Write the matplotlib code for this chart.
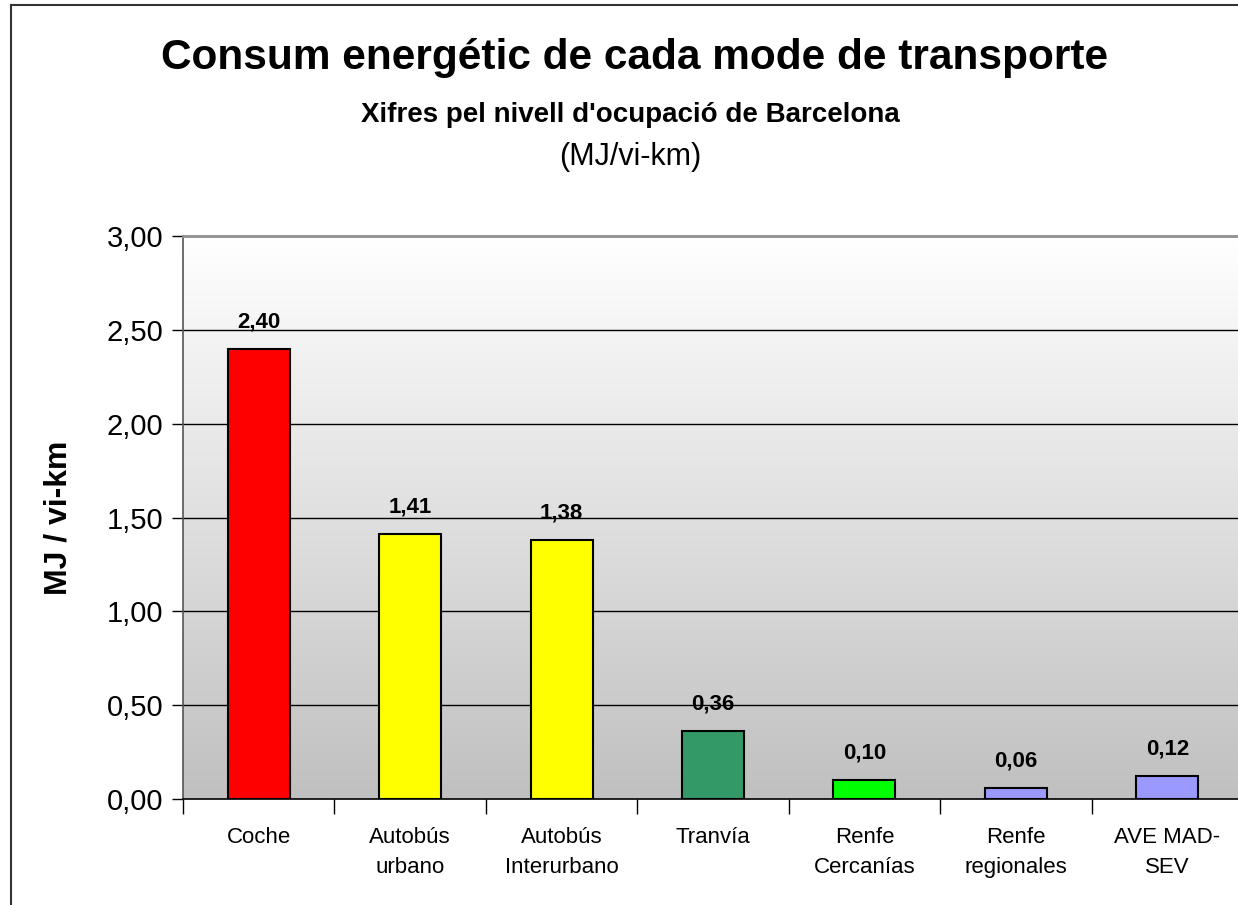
import numpy as np
import matplotlib
matplotlib.use("Agg")
import matplotlib.pyplot as plt
from matplotlib.lines import Line2D

categories = ["Coche", "Autobús\nurbano", "Autobús\nInterurbano", "Tranvía",
              "Renfe\nCercanías", "Renfe\nregionales", "AVE MAD-\nSEV"]
values = [2.40, 1.41, 1.38, 0.36, 0.10, 0.06, 0.12]
colors = ["#FF0000", "#FFFF00", "#FFFF00", "#339966", "#00FF00", "#9999FF", "#9999FF"]
yticks = [0.0, 0.5, 1.0, 1.5, 2.0, 2.5, 3.0]

plt.rcParams['font.family'] = ['Liberation Sans', 'DejaVu Sans']

W, H = 1238, 905
fig = plt.figure(figsize=(W / 100, H / 100), dpi=100)
fig.patch.set_facecolor("white")

left, right, top, bottom = 183, 1243, 236, 799
ax = fig.add_axes([left / W, 1 - bottom / H, (right - left) / W, (bottom - top) / H])

n = len(categories)
ax.set_xlim(-0.5, n - 0.5)
ax.set_ylim(0, 3.0)

# gradient background
grad = np.linspace(1.0, 0.0, 256).reshape(-1, 1)
cmap = matplotlib.colors.LinearSegmentedColormap.from_list("bg", ["#C0C0C0", "#FFFFFF"])
ax.imshow(grad, aspect="auto", cmap=cmap, extent=[-0.5, n - 0.5, 0, 3.0],
          origin="upper", zorder=0, vmin=0, vmax=1)
ax.set_facecolor("white")

for y in yticks[1:-1]:
    ax.axhline(y, color="black", lw=1.0, zorder=1)

x = np.arange(n)
bars = ax.bar(x, values, width=0.41, color=colors, edgecolor="black", linewidth=1.5, zorder=2)

for xi, v in zip(x, values):
    ax.annotate(f"{v:.2f}".replace(".", ","), (xi, v), xytext=(0, 19.5),
                textcoords="offset points", ha="center", va="center",
                fontsize=16, fontweight="bold", zorder=3)

ax.set_yticks(yticks)
ax.set_yticklabels([f"{t:.2f}".replace(".", ",") for t in yticks], fontsize=21)
ax.tick_params(axis="y", direction="out", length=8, width=1, pad=6, color="black")

ax.set_xticks(np.arange(-0.5, n, 1.0))
ax.set_xticklabels([])
ax.tick_params(axis="x", direction="out", length=11, width=1, color="black")
ax.set_xticks(x, minor=True)
ax.set_xticklabels(categories, minor=True, fontsize=16, linespacing=1.6, va="top")
ax.tick_params(axis="x", which="minor", length=0, pad=20)

ax.spines["right"].set_visible(False)
ax.spines["top"].set_color("#909090")
ax.spines["top"].set_linewidth(2)
ax.spines["left"].set_color("#555555")
ax.spines["left"].set_linewidth(1.2)
ax.spines["bottom"].set_color("black")
ax.spines["bottom"].set_linewidth(1.2)

ax.set_ylabel("MJ / vi-km", fontsize=23, fontweight="bold", labelpad=24)

fig.text(635 / W, 1 - 58 / H, "Consum energétic de cada mode de transporte",
         ha="center", va="center", fontsize=30.5, fontweight="bold")
fig.text(630 / W, 1 - 115 / H, "Xifres pel nivell d'ocupació de Barcelona",
         ha="center", va="center", fontsize=20, fontweight="bold")
fig.text(630 / W, 1 - 157 / H, "(MJ/vi-km)",
         ha="center", va="center", fontsize=22)

# outer border (left and top)
fig.add_artist(Line2D([10.5 / W, 10.5 / W], [0, 1 - 5 / H], transform=fig.transFigure,
                      color="#333333", lw=1.5))
fig.add_artist(Line2D([10.5 / W, 1], [1 - 5 / H, 1 - 5 / H], transform=fig.transFigure,
                      color="#333333", lw=1.5))

fig.savefig("out.png", dpi=100)
